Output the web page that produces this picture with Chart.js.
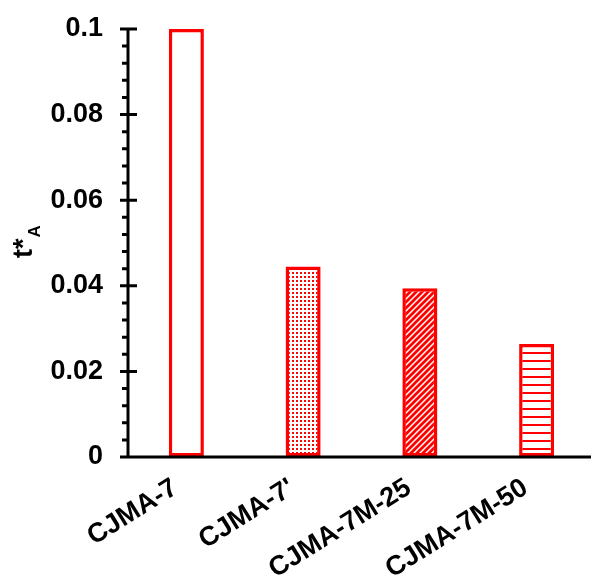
<!DOCTYPE html>
<html>
<head>
<meta charset="utf-8">
<script src="https://cdn.jsdelivr.net/npm/chart.js@4/dist/chart.umd.min.js"></script>
<style>
  html, body { margin: 0; padding: 0; background: #fff; overflow: hidden; }
  #wrap { width: 600px; height: 582px; }
</style>
</head>
<body>
<div id="wrap"><canvas id="chart" width="600" height="582"></canvas></div>
<script>
const categories = ["CJMA-7", "CJMA-7'", "CJMA-7M-25", "CJMA-7M-50"];
const tA = [0.1, 0.0445, 0.0394, 0.0264];
const yTicks = [0, 0.02, 0.04, 0.06, 0.08, 0.1];
const yTickLabels = ["0", "0.02", "0.04", "0.06", "0.08", "0.1"];
const minorStep = 0.004;

const RED = "#ff0000";
const FONT = "'Liberation Sans', Arial, sans-serif";

// fill patterns for the bars
const makePattern = (size, draw) => {
  const c = document.createElement("canvas");
  c.width = size;
  c.height = size;
  const p = c.getContext("2d");
  p.fillStyle = "#fff";
  p.fillRect(0, 0, size, size);
  draw(p, size);
  return document.getElementById("chart").getContext("2d").createPattern(c, "repeat");
};

const dots = makePattern(4, (p) => {
  p.fillStyle = RED;
  p.fillRect(0, 0, 2, 2);
});

const diagonal = makePattern(6, (p, s) => {
  p.strokeStyle = RED;
  p.lineWidth = 2.8;
  p.beginPath();
  p.moveTo(-1, s + 1); p.lineTo(s + 1, -1);
  p.moveTo(-1, 1); p.lineTo(1, -1);
  p.moveTo(s - 1, s + 1); p.lineTo(s + 1, s - 1);
  p.stroke();
});

const horizontal = makePattern(8, (p, s) => {
  p.fillStyle = RED;
  p.fillRect(0, 0, s, 2);
});

const fills = ["#ffffff", dots, diagonal, horizontal];

// axes, crossing major ticks, minor ticks and the t*A title
const axesPlugin = {
  id: "axes",
  afterDraw(chart) {
    const { ctx, chartArea, scales } = chart;
    const y = scales.y;
    const x0 = chartArea.left;
    const y0 = y.getPixelForValue(0);
    ctx.save();
    ctx.strokeStyle = "#000";
    ctx.lineWidth = 3;
    ctx.beginPath();
    ctx.moveTo(x0, y.getPixelForValue(yTicks[yTicks.length - 1]) - 1.5);
    ctx.lineTo(x0, y0);
    ctx.moveTo(x0 - 8, y0);
    ctx.lineTo(chartArea.right, y0);
    yTicks.forEach((v) => {
      const py = y.getPixelForValue(v);
      ctx.moveTo(x0 - 8, py);
      ctx.lineTo(x0 + 9, py);
    });
    for (let v = minorStep; v < 0.1 - 1e-9; v += minorStep) {
      const py = y.getPixelForValue(v);
      ctx.moveTo(x0 - 6, py);
      ctx.lineTo(x0, py);
    }
    ctx.stroke();

    // y title: t*A with subscript A
    ctx.translate(32, 258);
    ctx.rotate(-Math.PI / 2);
    ctx.fillStyle = "#000";
    ctx.textAlign = "left";
    ctx.textBaseline = "alphabetic";
    ctx.font = "bold 27px " + FONT;
    ctx.fillText("t", 0, 0);
    const wt = ctx.measureText("t").width;
    ctx.fillText("*", wt, 0);
    const ws = ctx.measureText("*").width;
    ctx.font = "bold 17px " + FONT;
    ctx.fillText("A", wt + ws + 1, 8);
    ctx.restore();
  },
};

new Chart(document.getElementById("chart"), {
  type: "bar",
  data: {
    labels: categories,
    datasets: [{
      data: tA,
      backgroundColor: fills,
      borderColor: RED,
      borderWidth: 3.5,
      borderSkipped: false,
      barPercentage: 0.3,
      categoryPercentage: 1,
    }],
  },
  options: {
    responsive: false,
    animation: false,
    layout: { padding: { top: 29, right: 5, left: 0, bottom: 0 } },
    plugins: {
      legend: { display: false },
      tooltip: { enabled: false },
    },
    scales: {
      x: {
        grid: { display: false },
        border: { display: false },
        ticks: {
          color: "#000",
          font: { family: FONT, size: 27, weight: "bold" },
          minRotation: 32,
          maxRotation: 32,
          padding: 7,
          labelOffset: -11,
        },
        afterFit: (s) => { s.height = 125; },
      },
      y: {
        min: 0,
        max: 0.1,
        grid: { display: true, drawOnChartArea: false, tickLength: 25, tickColor: "rgba(0,0,0,0)" },
        border: { display: false },
        afterBuildTicks: (s) => { s.ticks = yTicks.map((v) => ({ value: v })); },
        ticks: {
          color: "#000",
          font: { family: FONT, size: 27, weight: "bold" },
          padding: 0,
          callback: (v, i) => yTickLabels[i],
        },
        afterFit: (s) => { s.width = 128; },
      },
    },
  },
  plugins: [axesPlugin],
});
</script>
</body>
</html>
